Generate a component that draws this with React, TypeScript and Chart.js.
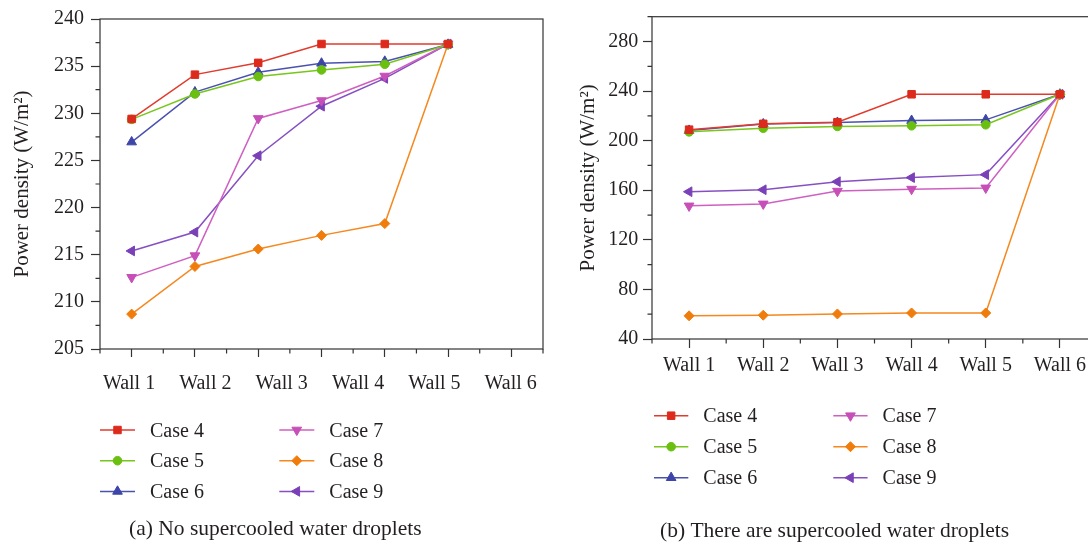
import React, { useEffect, useRef } from "react";
import { Chart, registerables } from "chart.js";
import { drawPoint } from "chart.js/helpers";

Chart.register(...registerables);

// ---------- data ----------
const walls = ["Wall 1", "Wall 2", "Wall 3", "Wall 4", "Wall 5", "Wall 6"];
const caseNames = ["Case 4", "Case 5", "Case 6", "Case 7", "Case 8", "Case 9"];

// (a) No supercooled water droplets
const case4A = [229.4, 234.1, 235.35, 237.35, 237.35, 237.35];
const case5A = [229.35, 232.05, 233.9, 234.6, 235.2, 237.3];
const case6A = [226.95, 232.25, 234.35, 235.3, 235.5, 237.3];
const case7A = [212.6, 214.9, 229.45, 231.35, 233.95, 237.35];
const case8A = [208.7, 213.75, 215.6, 217.05, 218.3, 237.35];
const case9A = [215.4, 217.4, 225.5, 230.75, 233.7, 237.35];

// (b) There are supercooled water droplets
const case4B = [208.9, 213.6, 214.9, 237.4, 237.4, 237.4];
const case5B = [207.1, 210.0, 211.5, 212.0, 212.8, 237.4];
const case6B = [208.2, 213.4, 214.6, 216.2, 216.8, 237.4];
const case7B = [147.4, 149.0, 159.3, 160.9, 161.9, 237.4];
const case8B = [58.7, 59.2, 60.2, 61.0, 61.0, 237.4];
const case9B = [158.8, 160.4, 166.9, 170.2, 172.6, 237.4];

const yTicksA = [205, 210, 215, 220, 225, 230, 235, 240];
const yTicksB = [40, 80, 120, 160, 200, 240, 280];

const yTitle = "Power density (W/m²)";
const captionA = "(a) No supercooled water droplets";
const captionB = "(b) There are supercooled water droplets";

// ---------- styles ----------
const lineColors = ["#e23a2c", "#78c61c", "#4a52b0", "#cf60c2", "#f5881e", "#8650c2"];
const markerColors = ["#dc2a1c", "#6abf10", "#3d45a8", "#c64fb8", "#f07c0c", "#7a40b8"];
const pointStyles = ["rect", "circle", "triangle", "triangle", "rectRot", "triangle"];
const pointRotations = [0, 0, 0, 180, 0, 270];
const pointRadii = [5.3, 4.3, 5.6, 5.6, 5.0, 5.6];

const FONT = "Liberation Serif, Times New Roman, serif";
const TEXT = "#231f20";
const AXIS = "#333333";

function makeDatasets(series: number[][]) {
  return series.map((data, i) => ({
    label: caseNames[i],
    data,
    borderColor: lineColors[i],
    borderWidth: 1.5,
    pointStyle: pointStyles[i],
    pointRotation: pointRotations[i],
    pointRadius: pointRadii[i],
    pointBackgroundColor: markerColors[i],
    pointBorderColor: markerColors[i],
    pointBorderWidth: 1,
    tension: 0,
    fill: false,
  }));
}

// frame + minor ticks
const framePlugin = {
  id: "frame",
  beforeDatasetsDraw(chart: any) {
    const { ctx, chartArea: a, scales } = chart;
    ctx.save();
    ctx.strokeStyle = AXIS;
    ctx.lineWidth = 1.2;
    ctx.strokeRect(a.left, a.top, a.right - a.left, a.bottom - a.top);
    const y = scales.y;
    const vals = y.ticks.map((t: any) => t.value);
    const step = vals[1] - vals[0];
    ctx.beginPath();
    for (let v = y.min; v <= y.max + 1e-9; v += step / 2) {
      if (vals.some((t: number) => Math.abs(t - v) < 1e-6)) continue;
      const py = y.getPixelForValue(v);
      ctx.moveTo(a.left - 4.5, py);
      ctx.lineTo(a.left, py);
    }
    const x = scales.x;
    const n = x.getLabels().length;
    const half = (x.getPixelForValue(1) - x.getPixelForValue(0)) / 2;
    for (let i = 0; i <= n; i++) {
      const px = x.getPixelForValue(0) - half + i * 2 * half;
      ctx.moveTo(px, a.bottom);
      ctx.lineTo(px, a.bottom + 4.5);
    }
    ctx.stroke();
    ctx.restore();
  },
};

const legendPlugin = {
  id: "caseLegend",
  afterDraw(chart: any, _args: any, o: any) {
    const ctx = chart.ctx;
    ctx.save();
    chart.data.datasets.forEach((ds: any, i: number) => {
      const col = Math.floor(i / 3);
      const row = i % 3;
      const x = o.x + col * o.colGap;
      const y = o.y + row * o.rowGap;
      ctx.strokeStyle = ds.borderColor;
      ctx.lineWidth = 1.5;
      ctx.beginPath();
      ctx.moveTo(x, y);
      ctx.lineTo(x + o.lineLen, y);
      ctx.stroke();
      ctx.fillStyle = ds.pointBackgroundColor;
      ctx.strokeStyle = ds.pointBorderColor;
      ctx.lineWidth = 1;
      drawPoint(
        ctx,
        { pointStyle: ds.pointStyle, rotation: ds.pointRotation, radius: ds.pointRadius, borderWidth: 1 } as any,
        x + o.lineLen / 2,
        y
      );
      ctx.fillStyle = TEXT;
      ctx.font = `20px ${FONT}`;
      ctx.textAlign = "left";
      ctx.textBaseline = "alphabetic";
      ctx.fillText(ds.label, x + o.textOffset, y + 6.5);
    });
    ctx.font = `21.5px ${FONT}`;
    ctx.fillStyle = TEXT;
    ctx.textAlign = "left";
    ctx.textBaseline = "alphabetic";
    ctx.fillText(o.caption, o.captionX, o.captionY);
    ctx.restore();
  },
};

const gridOpts = (len: number) => ({
  display: true,
  drawOnChartArea: false,
  drawTicks: true,
  tickLength: len,
  tickColor: AXIS,
  tickWidth: 1.2,
});

function configA(): any {
  return {
    type: "line",
    data: {
      labels: [...walls, ""],
      datasets: makeDatasets([case4A, case5A, case6A, case7A, case8A, case9A]),
    },
    plugins: [framePlugin, legendPlugin],
    options: {
      responsive: false,
      animation: false,
      devicePixelRatio: 1,
      layout: { padding: { top: 16, right: 17, bottom: 143, left: 0 } },
      plugins: {
        legend: { display: false },
        tooltip: { enabled: false },
        caseLegend: {
          x: 100, y: 430, colGap: 179.3, rowGap: 30.7, lineLen: 35, textOffset: 50,
          caption: captionA, captionX: 129, captionY: 535,
        },
      },
      scales: {
        x: {
          type: "category",
          position: "bottom",
          weight: 0,
          offset: true,
          grid: gridOpts(8),
          border: { display: false },
          ticks: { display: false },
          afterFit: (s: any) => { s.height = 8; },
        },
        xl: {
          type: "linear",
          position: "bottom",
          weight: 1,
          min: 0.62,
          max: 6.423,
          grid: { display: false },
          border: { display: false },
          afterBuildTicks: (s: any) => { s.ticks = walls.map((_, i) => ({ value: i + 1 })); },
          ticks: {
            padding: 6.5,
            autoSkip: false,
            maxRotation: 0,
            color: TEXT,
            font: { family: FONT, size: 20 },
            callback: (v: any) => walls[Math.round(v) - 1] ?? "",
          },
          afterFit: (s: any) => { s.height = 45; },
        },
        y: {
          min: 205,
          max: 240,
          grid: gridOpts(9),
          border: { display: false },
          afterBuildTicks: (s: any) => { s.ticks = yTicksA.map((v) => ({ value: v })); },
          ticks: { padding: 7, color: TEXT, font: { family: FONT, size: 20 } },
          title: {
            display: true,
            text: yTitle,
            color: TEXT,
            font: { family: FONT, size: 21 },
            padding: { top: 10, bottom: 0 },
          },
          afterFit: (s: any) => { s.width = 100; },
        },
      },
    },
  };
}

function configB(): any {
  return {
    type: "line",
    data: {
      labels: walls,
      datasets: makeDatasets([case4B, case5B, case6B, case7B, case8B, case9B]),
    },
    plugins: [framePlugin, legendPlugin],
    options: {
      responsive: false,
      animation: false,
      devicePixelRatio: 1,
      layout: { padding: { top: 5, right: 23, bottom: 161, left: 0 } },
      plugins: {
        legend: { display: false },
        tooltip: { enabled: false },
        caseLegend: {
          x: 94, y: 415.7, colGap: 179.3, rowGap: 31, lineLen: 34.3, textOffset: 49.3,
          caption: captionB, captionX: 100, captionY: 536.5,
        },
      },
      scales: {
        x: {
          type: "category",
          position: "bottom",
          offset: true,
          grid: gridOpts(9),
          border: { display: false },
          ticks: {
            padding: 5.5,
            autoSkip: false,
            maxRotation: 0,
            color: TEXT,
            font: { family: FONT, size: 20 },
          },
          afterFit: (s: any) => { s.height = 45; },
        },
        y: {
          min: 40,
          max: 300,
          grid: gridOpts(9),
          border: { display: false },
          afterBuildTicks: (s: any) => { s.ticks = yTicksB.map((v) => ({ value: v })); },
          ticks: { padding: 4.7, color: TEXT, font: { family: FONT, size: 20 } },
          title: {
            display: true,
            text: yTitle,
            color: TEXT,
            font: { family: FONT, size: 21 },
            padding: { top: 15.4, bottom: 0 },
          },
          afterFit: (s: any) => { s.width = 92; },
        },
      },
    },
  };
}

function Panel({ left, make }: { left: number; make: () => any }) {
  const ref = useRef<HTMLCanvasElement>(null);
  useEffect(() => {
    const chart = new Chart(ref.current as HTMLCanvasElement, make());
    return () => chart.destroy();
  }, []);
  return (
    <div style={{ position: "absolute", left, top: 0, width: 560, height: 545 }}>
      <canvas ref={ref} width={560} height={545} style={{ width: 560, height: 545, display: "block" }} />
    </div>
  );
}

export default function App() {
  return (
    <div
      style={{
        position: "fixed",
        left: 0,
        top: 0,
        width: 1088,
        height: 545,
        overflow: "hidden",
        background: "#ffffff",
      }}
    >
      <Panel left={0} make={configA} />
      <Panel left={560} make={configB} />
    </div>
  );
}
